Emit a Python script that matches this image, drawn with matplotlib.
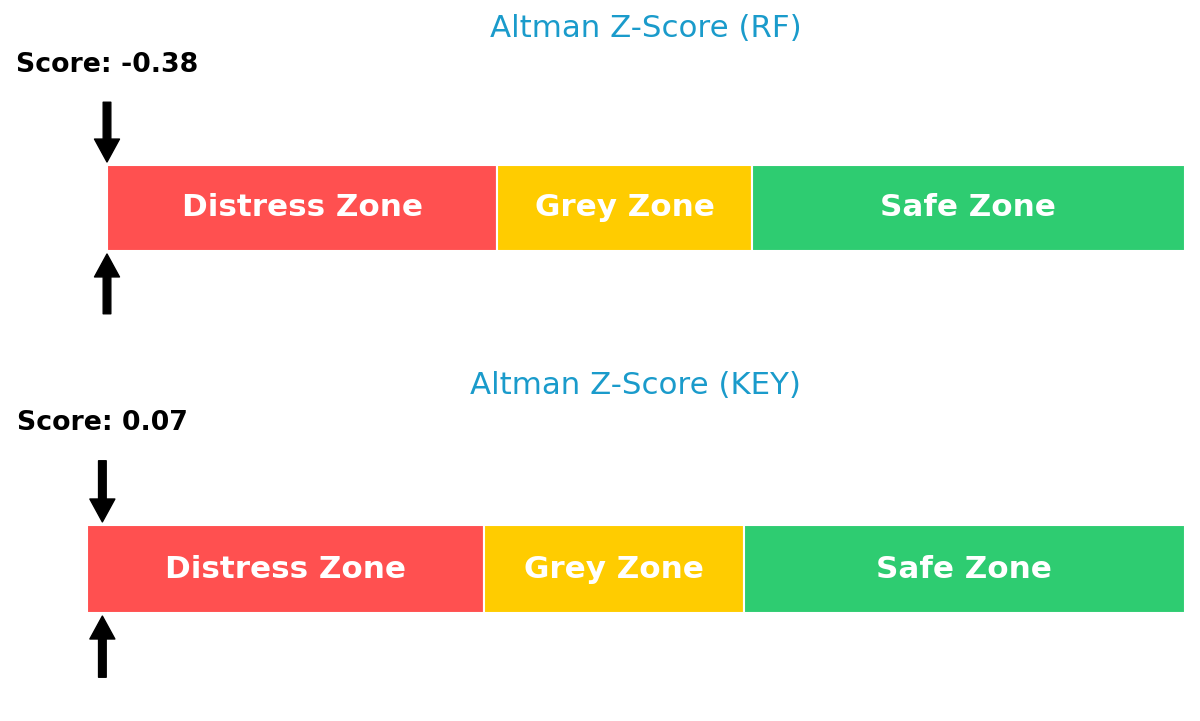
import matplotlib

matplotlib.use("Agg")
import matplotlib.pyplot as plt
import numpy as np

# zone boundaries on the Altman Z-score axis
zone_names = ["Distress Zone", "Grey Zone", "Safe Zone"]
zone_edges = [0.0, 1.81, 2.99, 5.0]
zone_colors = ["#ff5050", "#ffcc00", "#2ecc71"]

companies = ["RF", "KEY"]
scores = [-0.38, 0.07]

title_color = "#1a9bcb"

fig = plt.figure(figsize=(12, 7.21), dpi=100)

# axes boxes in pixels: (left, top, right, bottom) of the ylim (-1, 2) window
boxes = [(107, 79, 1185, 337), (87, 437, 1185, 701)]
W, H = 1200, 721

for name, score, (x0, y0, x1, y1) in zip(companies, scores, boxes):
    ax = fig.add_axes([x0 / W, 1 - y1 / H, (x1 - x0) / W, (y1 - y0) / H])
    ax.set_xlim(zone_edges[0], zone_edges[-1])
    ax.set_ylim(-1, 2)
    ax.axis("off")

    lefts = np.array(zone_edges[:-1])
    widths = np.diff(zone_edges)
    ax.barh(0.5, widths, left=lefts, height=1.0, color=zone_colors,
            edgecolor="white", linewidth=1.5)
    for label, left, width in zip(zone_names, lefts, widths):
        ax.text(left + width / 2, 0.5, label, ha="center", va="center",
                color="white", fontsize=22.3, fontweight="bold")

    pos = float(np.clip(score, zone_edges[0], zone_edges[-1]))
    arrow = dict(facecolor="black", edgecolor="black", width=5.5,
                 headwidth=18, headlength=16.5)
    ax.annotate("", xy=(pos, 1.035), xytext=(pos, 1.73), arrowprops=arrow,
                annotation_clip=False)
    ax.annotate("", xy=(pos, -0.035), xytext=(pos, -0.73), arrowprops=arrow,
                annotation_clip=False)

    ax.text(pos, 2.16, f"Score: {score:.2f}", ha="center", va="center",
            fontsize=19.3, fontweight="bold", color="black", clip_on=False)
    mid = (zone_edges[0] + zone_edges[-1]) / 2
    ax.text(mid, 2.59, f"Altman Z-Score ({name})", ha="center", va="center",
            fontsize=22.2, color=title_color, clip_on=False)

fig.savefig("out.png", dpi=100)
